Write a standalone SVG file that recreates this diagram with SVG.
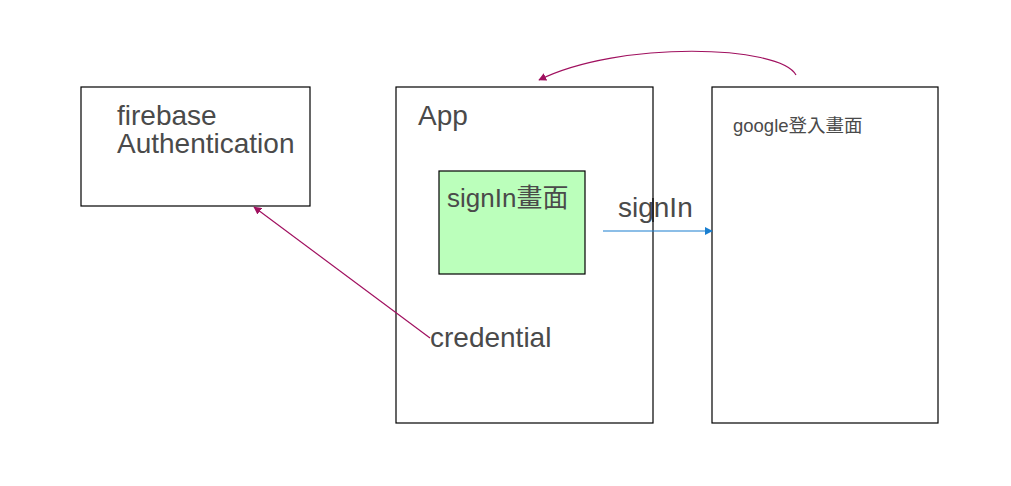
<svg xmlns="http://www.w3.org/2000/svg" width="1011" height="486" viewBox="0 0 1011 486">
<style>
.box{fill:#ffffff;stroke:#000000;stroke-width:1.2}
.green{fill:#bbffbb;stroke:#000000;stroke-width:1.2}
.lbl{font-family:"Liberation Sans","Noto Sans CJK TC",sans-serif;fill:#4a4a4a}
.big{font-size:28px}
.mid{font-size:26px}
.small{font-size:18.5px}
.mag{fill:none;stroke:#a0105f;stroke-width:1.2}
.blue{fill:none;stroke:#1a7fd0;stroke-width:1.2}
</style>
<defs>
<marker id="amag" viewBox="0 0 10 10" refX="9" refY="5" markerWidth="8" markerHeight="8" markerUnits="userSpaceOnUse" orient="auto">
<path d="M0,0 L10,5 L0,10 Z" fill="#a0105f"/>
</marker>
<marker id="ablue" viewBox="0 0 10 10" refX="9" refY="5" markerWidth="8" markerHeight="8" markerUnits="userSpaceOnUse" orient="auto">
<path d="M0,0 L10,5 L0,10 Z" fill="#1a7fd0"/>
</marker>
</defs>
<rect width="1011" height="486" fill="#ffffff"/>
<g id="firebase">
<rect class="box" x="81" y="87" width="229" height="119"/>
<text class="lbl big" x="117" y="125">firebase</text>
<text class="lbl big" x="117" y="153">Authentication</text>
</g>
<g id="app">
<rect class="box" x="396" y="87" width="257" height="336"/>
<text class="lbl big" x="418" y="125">App</text>
<text class="lbl big" x="430" y="347">credential</text>
</g>
<g id="signin-screen">
<rect class="green" x="439" y="171" width="146" height="103"/>
<text class="lbl mid" x="447" y="207">signIn畫面</text>
</g>
<g id="google">
<rect class="box" x="712" y="87" width="226" height="336"/>
<text class="lbl small" x="733" y="132">google登入畫面</text>
</g>
<g id="connectors">
<path class="mag" d="M796,75 C780,45 620,40 539,80" marker-end="url(#amag)"/>
<path class="mag" d="M430,338 L254,207" marker-end="url(#amag)"/>
<path class="blue" d="M603,231 L712,231" marker-end="url(#ablue)"/>
<text class="lbl big" x="618" y="217">signIn</text>
<line x1="653" y1="198" x2="653" y2="222" stroke="#000000" stroke-width="1.2"/>
</g>
</svg>
